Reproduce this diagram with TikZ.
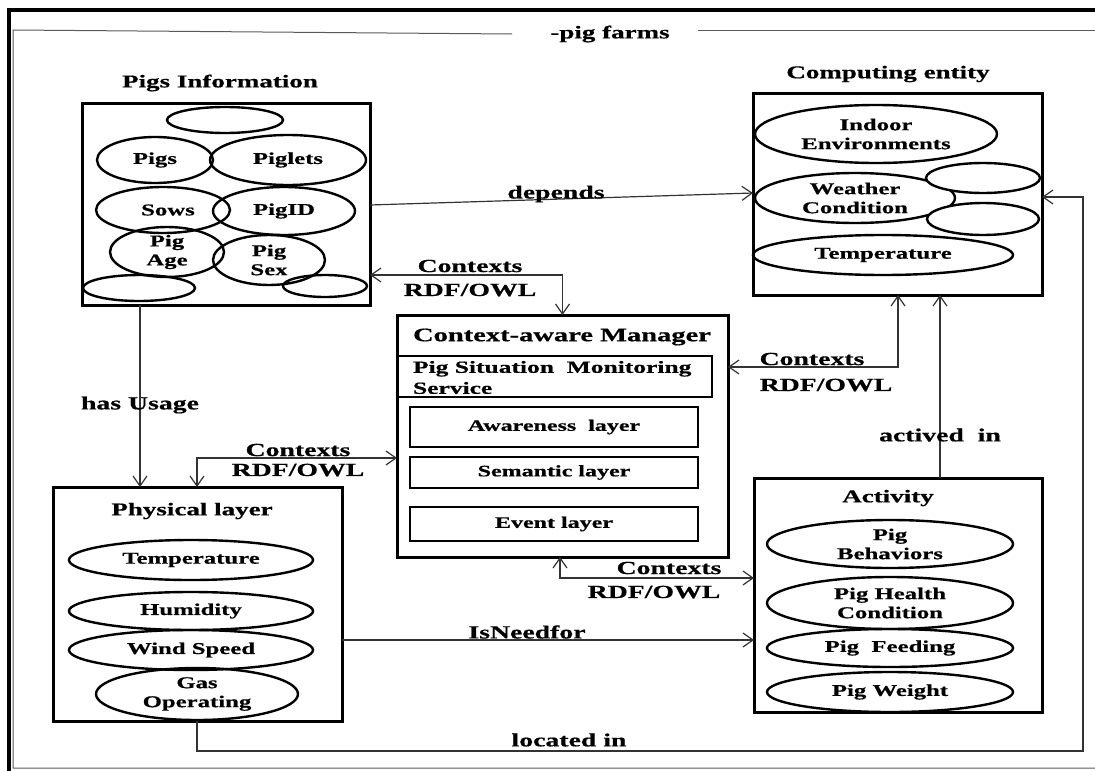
\documentclass[tikz,border=0pt]{standalone}
\usepackage{fontspec}
\setmainfont{Liberation Serif}[FakeStretch=1.5, BoldFeatures={FakeBold=0.6}]
\usetikzlibrary{arrows.meta,shapes.geometric,calc}

\begin{document}
\begin{tikzpicture}[x=1pt,y=-1pt,
  every node/.style={font=\bfseries\fontsize{18}{20}\selectfont, inner sep=0pt, outer sep=0pt},
  box/.style={draw, line width=3pt, anchor=north west},
  oval/.style={draw, ellipse, line width=2.4pt, align=center, inner sep=0pt,
    font=\bfseries\fontsize{16.5}{19}\selectfont},
  layerbox/.style={draw, line width=2.4pt, anchor=north west,
    font=\bfseries\fontsize{16}{18}\selectfont},
  lbl/.style={font=\bfseries\fontsize{18.5}{20}\selectfont},
  conn/.style={line width=1.2pt, black!80},
  tipend/.style={-{Straight Barb[length=10pt,width=14pt,line width=1.2pt]}},
  tipboth/.style={{Straight Barb[length=10pt,width=14pt,line width=1.2pt]}-{Straight Barb[length=10pt,width=14pt,line width=1.2pt]}},
  frame/.style={line width=1pt, black!65}
]
\useasboundingbox (0,0) rectangle (1095,771);

% outer frames
\draw[line width=4.5pt] (9,771) -- (9,10) -- (1095,10);
\node (farm) at (610,34) {-pig farms};
\draw[frame] (farm.west -| 512,0) -- (13,30) -- (13,768) -- (1095,768);
\draw[frame] (698,30) -- (1095,30);

% Pigs Information
\node (pigstitle) at (220,83) {Pigs Information};
\node[box, minimum width=288pt, minimum height=202pt] (pigs) at (82,103) {};
\node[oval, minimum width=116pt, minimum height=26pt] (pe1) at (225,120) {};
\node[oval, minimum width=116pt, minimum height=46pt] (pg) at (155,160) {Pigs};
\node[oval, minimum width=156pt, minimum height=50pt] (piglets) at (288,160) {Piglets};
\node[oval, minimum width=134pt, minimum height=46pt] (sows) at (163,210) {\hspace*{10pt}Sows};
\node[oval, minimum width=142pt, minimum height=48pt] (pigid) at (284,211) {PigID};
\node[oval, minimum width=114pt, minimum height=50pt] (pigage) at (167,252) {Pig\\Age};
\node[oval, minimum width=112pt, minimum height=50pt] (pigsex) at (269,260) {Pig\\Sex};
\node[oval, minimum width=112pt, minimum height=26pt] (pe2) at (139,288) {};
\node[oval, minimum width=84pt, minimum height=22pt] (pe3) at (325,286) {};

% Computing entity
\node (comptitle) at (888,74) {Computing entity};
\node[box, minimum width=289pt, minimum height=202pt] (comp) at (753,93) {};
\node[oval, minimum width=242pt, minimum height=58pt] (indoor) at (876,134) {Indoor\\Environments};
\node[oval, minimum width=200pt, minimum height=50pt] (weather) at (855,198) {Weather\\Condition};
\node[oval, fill=white, minimum width=114pt, minimum height=30pt] (ce1) at (983,178) {};
\node[oval, fill=white, minimum width=112pt, minimum height=32pt] (ce2) at (983,219) {};
\node[oval, minimum width=260pt, minimum height=40pt] (ctemp) at (883,255) {Temperature};

% Context-aware Manager
\node[box, minimum width=331pt, minimum height=242pt] (cam) at (397,315) {};
\node[font=\bfseries\fontsize{19}{21}\selectfont] (camtitle) at (562,337) {Context-aware Manager};
\node[layerbox, minimum width=315pt, minimum height=41pt] (psm) at (397,356) {};
\node[anchor=north west, align=left, font=\bfseries\fontsize{17}{21}\selectfont] (psmtext) at (413,361)
  {Pig Situation\ \ Monitoring\\Service};
\node[layerbox, minimum width=288pt, minimum height=40pt] (aware) at (410,407) {};
\node[font=\bfseries\fontsize{16}{18}\selectfont] at (aware.center) {Awareness\ \ layer};
\node[layerbox, minimum width=288pt, minimum height=31pt] (sem) at (410,457) {};
\node[font=\bfseries\fontsize{16}{18}\selectfont] at (sem.center) {Semantic layer};
\node[layerbox, minimum width=288pt, minimum height=34pt] (event) at (410,507) {};
\node[font=\bfseries\fontsize{16}{18}\selectfont] at (event.center) {Event layer};

% Physical layer
\node[box, minimum width=289pt, minimum height=234pt] (phys) at (53,487) {};
\node (phystitle) at (192,511) {Physical layer};
\node[oval, minimum width=244pt, minimum height=40pt] (ptemp) at (191,560) {Temperature};
\node[oval, minimum width=244pt, minimum height=38pt] (phum) at (191,611) {Humidity};
\node[oval, minimum width=244pt, minimum height=40pt] (pwind) at (191,650) {Wind Speed};
\node[oval, minimum width=202pt, minimum height=52pt] (pgas) at (197,694) {Gas\\Operating};

% Activity
\node[box, minimum width=288pt, minimum height=234pt] (act) at (754,478) {};
\node (acttitle) at (888,498) {Activity};
\node[oval, minimum width=246pt, minimum height=48pt] (abeh) at (890,544) {Pig\\Behaviors};
\node[oval, minimum width=246pt, minimum height=52pt] (ahealth) at (890,603) {Pig Health\\Condition};
\node[oval, minimum width=246pt, minimum height=38pt] (afeed) at (890,648) {Pig\ \ Feeding};
\node[oval, minimum width=246pt, minimum height=40pt] (aweight) at (890,692) {Pig Weight};

% connectors
\draw[conn, tipend] (pigs.east |- 0,205) -- (comp.west |- 0,193);
\node[lbl] at (556,194) {depends};

\draw[conn, tipboth] (pigs.east |- 0,275) -| (cam.north);
\node[lbl] at (470,266) {Contexts};
\node[lbl] at (470,290) {RDF/OWL};

\draw[conn, tipboth] (cam.east |- 0,367) -| (comp.south -| 898,0);
\node[lbl] at (812,359) {Contexts};
\node[lbl] at (826,385) {RDF/OWL};

\draw[conn, tipend] (act.north -| 940,0) -- (comp.south -| 940,0);
\node[lbl] at (940,435) {actived\ \ in};

\draw[conn, tipboth] (phys.north -| 197,0) |- (cam.west |- 0,458);
\node[lbl] at (298,450) {Contexts};
\node[lbl] at (298,470) {RDF/OWL};

\draw[conn, tipend] (pigs.south -| 140,0) -- (phys.north -| 140,0);
\node[lbl] at (140,405) {has Usage};

\draw[conn, tipboth] (cam.south -| 560,0) |- (act.west |- 0,578);
\node[lbl] at (669,568) {Contexts};
\node[lbl] at (654,592) {RDF/OWL};

\draw[conn, tipend] (phys.east |- 0,640) -- (act.west |- 0,640);
\node[lbl] at (527,632) {IsNeedfor};

\draw[conn, tipend] (phys.south -| 197,0) |- (1083,751) |- (comp.east |- 0,197);
\node[lbl] at (569,740) {located in};
\end{tikzpicture}
\end{document}
